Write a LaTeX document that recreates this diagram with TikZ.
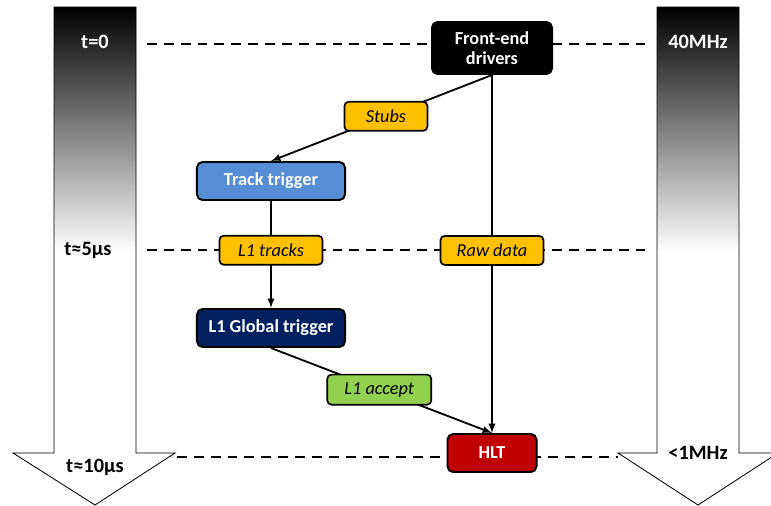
\documentclass[tikz,border=0pt]{standalone}
\usepackage{fontspec}
\setmainfont{Carlito}
\usetikzlibrary{arrows}

\definecolor{trackblue}{HTML}{558ED5}
\definecolor{globalnavy}{HTML}{002060}
\definecolor{hltred}{HTML}{C00000}
\definecolor{tagyellow}{HTML}{FFC000}
\definecolor{acceptgreen}{HTML}{92D050}

\begin{document}
\begin{tikzpicture}[x=0.025cm,y=-0.025cm]
	\tikzstyle{box} = [draw=black, line width=1.4pt, rounded corners=4pt, text=white, align=center, inner sep=0pt, font=\fontsize{13}{14.5}\selectfont\bfseries]
	\tikzstyle{tag} = [draw=black, line width=1.2pt, rounded corners=3pt, fill=tagyellow, inner sep=0pt, minimum width=2.575cm, minimum height=0.725cm, font=\fontsize{13}{14.5}\selectfont\itshape]
	\tikzstyle{timeline} = [line width=1.1pt, dash pattern=on 7pt off 5pt]
	\tikzstyle{flow} = [-latex, line width=1.3pt]
	\tikzstyle{scalelabel} = [inner sep=0pt, font=\fontsize{14.5}{16}\selectfont\bfseries]
	\clip (0,0) rectangle (771,506);

	% time and rate arrows
	\fill[white] (0,0) rectangle (771,506);
	\shade[top color=black, bottom color=white] (54,7) rectangle (136,252);
	\draw[line width=0.6pt] (54,7) -- (136,7) -- (136,453) -- (175,453) -- (95,505) -- (13,453) -- (54,453) -- cycle;
	\shade[top color=black, bottom color=white] (657,7) rectangle (739,252);
	\draw[line width=0.6pt] (657,7) -- (739,7) -- (739,453) -- (778,453) -- (698,505) -- (618,453) -- (657,453) -- cycle;

	\node[scalelabel, text=white] (T0) at (95,42) {t=0};
	\node[scalelabel] (T5) at (88,250) {t≈5μs};
	\node[scalelabel] (T10) at (95,467) {t≈10μs};
	\node[scalelabel, text=white] (R40) at (698,42) {40MHz};
	\node[scalelabel] (R1) at (698,453) {<1MHz};

	\coordinate (L0) at (147,44); \coordinate (E0) at (645,44);
	\coordinate (L5) at (147,250); \coordinate (E5) at (645,250);
	\coordinate (L10) at (177,457); \coordinate (E10) at (618,457);
	\draw[timeline] (L0) -- (E0);
	\draw[timeline] (L5) -- (E5);
	\draw[timeline] (L10) -- (E10);

	% trigger chain
	\node[box, fill=black, minimum width=3cm, minimum height=1.3cm] (FE) at (492,48) {Front-end\\drivers};
	\node[box, fill=trackblue, minimum width=3.7cm, minimum height=0.95cm] (TT) at (271,181) {Track trigger};
	\node[box, fill=globalnavy, minimum width=3.7cm, minimum height=0.95cm] (GT) at (271,328) {L1 Global trigger};
	\node[box, fill=hltred, minimum width=2.225cm, minimum height=0.95cm] (HLT) at (492,453) {HLT};

	\draw[flow] (FE.south) -- node[tag, minimum width=2.075cm, pos=0.48] (Stubs) {Stubs} (TT.north);
	\draw[flow] (TT.south) -- node[tag, pos=0.46] (Tracks) {L1 tracks} (GT.north);
	\draw[flow] (FE.south) -- node[tag, pos=0.49] (Raw) {Raw data} (HLT.north);
	\draw[flow] (GT.south) -- node[tag, fill=acceptgreen, minimum width=2.6cm, minimum height=0.75cm, pos=0.49] (Accept) {L1 accept} (HLT.north);

\end{tikzpicture}
\end{document}
